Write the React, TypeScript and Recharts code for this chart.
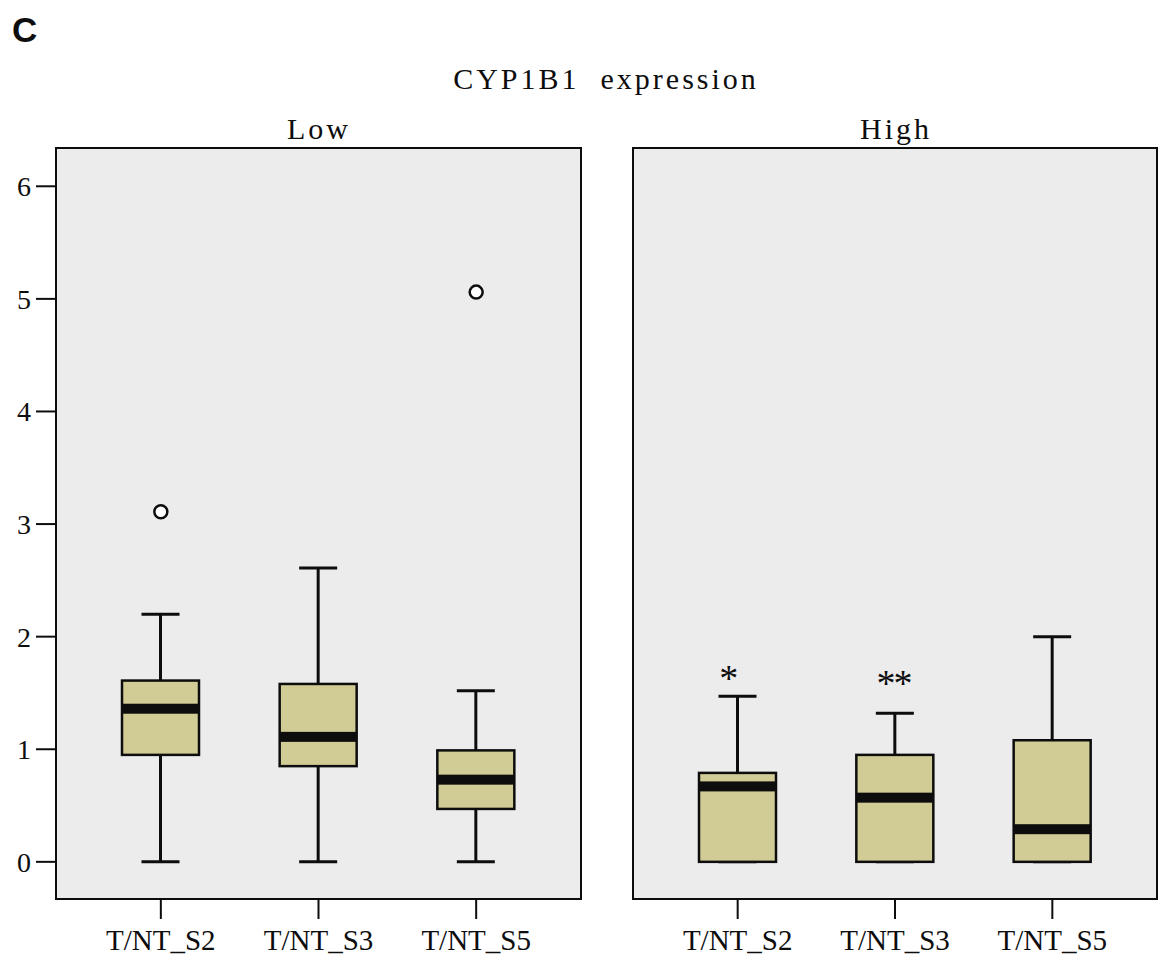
import { ComposedChart, Bar, Line, XAxis, YAxis } from "recharts";

// categories and box-plot statistics
const categories = ["T/NT_S2", "T/NT_S3", "T/NT_S5"];
const yTicks = [0, 1, 2, 3, 4, 5, 6];

const lowMin = [0, 0, 0];
const lowQ1 = [0.95, 0.85, 0.47];
const lowMedian = [1.36, 1.11, 0.73];
const lowQ3 = [1.61, 1.58, 0.99];
const lowMax = [2.2, 2.61, 1.52];
const lowOutliers = [3.11, null, 5.06];

const highMin = [0, 0, 0];
const highQ1 = [0, 0, 0];
const highMedian = [0.67, 0.57, 0.29];
const highQ3 = [0.79, 0.95, 1.08];
const highMax = [1.47, 1.32, 2.0];
const highExtremes = [1.68, 1.63, null];
const highExtremeCount = [1, 2, 0];

const BOX_FILL = "#D1CC95";
const PANEL_BG = "#ECECEC";
const INK = "#0d0d0d";
const SERIF = '"Liberation Serif", "Times New Roman", serif';

const buildRows = (
  mins: number[],
  q1s: number[],
  medians: number[],
  q3s: number[],
  maxs: number[],
  outliers: (number | null)[],
  extremes: (number | null)[],
  extremeCount: number[]
) =>
  categories.map((name, i) => ({
    name,
    min: mins[i],
    q1: q1s[i],
    median: medians[i],
    q3: q3s[i],
    max: maxs[i],
    outlier: outliers[i],
    extreme: extremes[i],
    extremeCount: extremeCount[i],
  }));

const lowRows = buildRows(lowMin, lowQ1, lowMedian, lowQ3, lowMax, lowOutliers, [null, null, null], [0, 0, 0]);
const highRows = buildRows(highMin, highQ1, highMedian, highQ3, highMax, [null, null, null], highExtremes, highExtremeCount);

// whisker + box + median band, positioned from the bar's [min, max] range
const BoxShape = (props: any) => {
  const { x, y, width, height, payload } = props;
  if (x == null || y == null) return <g />;
  const top = Math.min(y, y + height);
  const bottom = Math.max(y, y + height);
  const span = payload.max - payload.min;
  const k = span > 0 ? (bottom - top) / span : 0;
  const py = (v: number) => bottom - (v - payload.min) * k;
  const cx = x + width / 2;
  const half = width / 2;
  const cap = 19;
  return (
    <g>
      <line x1={cx} x2={cx} y1={py(payload.max)} y2={py(payload.q3)} stroke={INK} strokeWidth={3} />
      <line x1={cx} x2={cx} y1={py(payload.q1)} y2={py(payload.min)} stroke={INK} strokeWidth={3} />
      <line x1={cx - cap} x2={cx + cap} y1={py(payload.max)} y2={py(payload.max)} stroke={INK} strokeWidth={3} />
      <line x1={cx - cap} x2={cx + cap} y1={py(payload.min)} y2={py(payload.min)} stroke={INK} strokeWidth={3} />
      <rect
        x={cx - half}
        y={py(payload.q3)}
        width={width}
        height={py(payload.q1) - py(payload.q3)}
        fill={BOX_FILL}
        stroke={INK}
        strokeWidth={2.5}
      />
      <rect x={cx - half} y={py(payload.median) - 5} width={width} height={10} fill={INK} />
    </g>
  );
};

const OutlierDot = (props: any) => {
  const { cx, cy, value, index } = props;
  if (value == null || cy == null || isNaN(cy)) return <g key={`o-${index}`} />;
  return <circle key={`o-${index}`} cx={cx} cy={cy} r={6.5} fill="#fff" stroke={INK} strokeWidth={2.5} />;
};

const ExtremeDot = (props: any) => {
  const { cx, cy, value, index, payload } = props;
  if (value == null || cy == null || isNaN(cy)) return <g key={`e-${index}`} />;
  return (
    <text
      key={`e-${index}`}
      x={cx - 18.5}
      y={cy + 18}
      fontSize={38}
      letterSpacing={-2}
      fontFamily={SERIF}
      fill={INK}
      textAnchor="start"
    >
      {"*".repeat(payload.extremeCount)}
    </text>
  );
};

const Panel = ({ rows, showY, left, width, marginLeft, marginRight }: any) => (
  <div style={{ position: "absolute", left, top: 0, width, height: 960 }}>
    <ComposedChart
      width={width}
      height={960}
      data={rows}
      margin={{ top: 148, right: marginRight, left: marginLeft, bottom: 0 }}
    >
      <XAxis
        dataKey="name"
        height={61}
        padding={{ left: 26, right: 26 }}
        axisLine={false}
        tickSize={20}
        tickMargin={10}
        interval={0}
        tickLine={{ stroke: INK, strokeWidth: 2 }}
        tick={{ fill: INK, fontSize: 29, fontFamily: SERIF }}
      />
      <YAxis
        hide={!showY}
        width={56}
        type="number"
        domain={[-0.33, 6.34]}
        ticks={yTicks}
        allowDataOverflow
        axisLine={false}
        tickSize={20}
        tickMargin={5}
        tickLine={{ stroke: INK, strokeWidth: 2 }}
        tick={{ fill: INK, fontSize: 28, fontFamily: SERIF }}
      />
      <Bar dataKey={(d: any) => [d.min, d.max]} barSize={77} shape={BoxShape} isAnimationActive={false} />
      <Line
        dataKey="outlier"
        stroke="none"
        dot={OutlierDot}
        activeDot={false}
        legendType="none"
        isAnimationActive={false}
      />
      <Line
        dataKey="extreme"
        stroke="none"
        dot={ExtremeDot}
        activeDot={false}
        legendType="none"
        isAnimationActive={false}
      />
    </ComposedChart>
  </div>
);

export default function App() {
  return (
    <div style={{ position: "absolute", left: 0, top: 0, width: 1159, height: 960, background: "#fff" }}>
      <svg width={1159} height={960} style={{ position: "absolute", left: 0, top: 0 }}>
        <text x={12} y={42} fontSize={35} fontWeight="bold" fontFamily='"Liberation Sans", Arial, sans-serif' fill={INK}>
          C
        </text>
        <text
          x={606}
          y={89}
          fontSize={30}
          fontFamily={SERIF}
          letterSpacing={3}
          textAnchor="middle"
          fill={INK}
          style={{ whiteSpace: "pre" }}
        >
          {"CYP1B1  expression"}
        </text>
        <text x={319} y={139} fontSize={30} fontFamily={SERIF} letterSpacing={3} textAnchor="middle" fill={INK}>
          Low
        </text>
        <text x={896} y={139} fontSize={30} fontFamily={SERIF} letterSpacing={3} textAnchor="middle" fill={INK}>
          High
        </text>
      </svg>
      {/* panel frames */}
      <div
        style={{
          position: "absolute",
          left: 55,
          top: 147,
          width: 527,
          height: 753,
          boxSizing: "border-box",
          border: `2px solid ${INK}`,
          background: PANEL_BG,
        }}
      />
      <div
        style={{
          position: "absolute",
          left: 632,
          top: 147,
          width: 526,
          height: 753,
          boxSizing: "border-box",
          border: `2px solid ${INK}`,
          background: PANEL_BG,
        }}
      />
      <Panel rows={lowRows} showY left={0} width={600} marginLeft={0} marginRight={19} />
      <Panel rows={highRows} showY={false} left={577} width={582} marginLeft={56} marginRight={2} />
    </div>
  );
}
